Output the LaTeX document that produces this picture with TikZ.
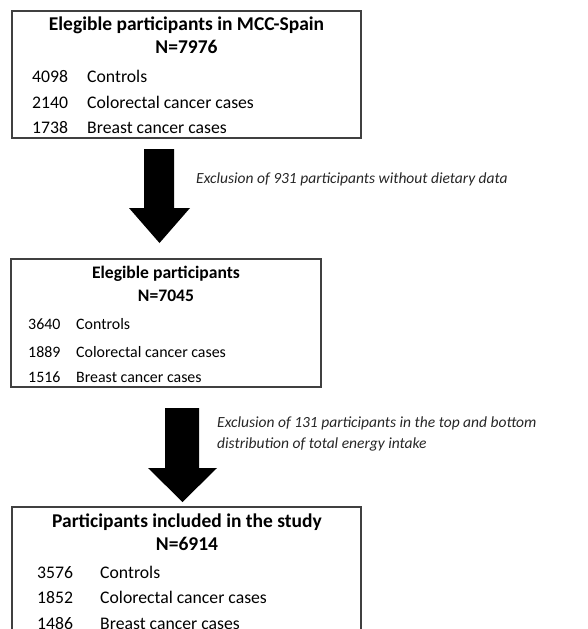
\documentclass[tikz,border=0pt]{standalone}
\usepackage{fontspec}
\setmainfont{Carlito}
\begin{document}
\begin{tikzpicture}[x=1pt,y=-1pt,
  box/.style={draw=black!75,line width=1.3pt},
  ttl/.style={anchor=base,font=\fontsize{19.5}{22}\selectfont\bfseries,inner sep=0pt},
  row/.style={anchor=base west,font=\fontsize{17.7}{20}\selectfont,inner sep=0pt},
  ttlsm/.style={ttl,font=\fontsize{17.6}{20}\selectfont\bfseries},
  rowsm/.style={row,font=\fontsize{15.9}{19}\selectfont},
  note/.style={anchor=base west,font=\fontsize{15.5}{19}\selectfont\itshape,inner sep=0pt,text=black!85},
  blk/.style={fill=black}]
\useasboundingbox (0,0) rectangle (587,629);
\clip (0,0) rectangle (587,629);
% boxes
\node[box,minimum width=349pt,minimum height=127pt,inner sep=0pt] (b1) at (186.5,74.5) {};
\node[box,minimum width=310pt,minimum height=128pt,inner sep=0pt] (b2) at (166,323) {};
\node[box,minimum width=349pt,minimum height=140pt,inner sep=0pt] (b3) at (186.5,577) {};
% box 1 text
\node[ttl] (t1) at (186.5,30) {Elegible participants in MCC-Spain};
\node[ttl] (n1) at (186.5,53) {N=7976};
\node[row] (r11) at (32,82) {4098};
\node[row] (l11) at (87,82) {Controls};
\node[row] (r12) at (32,108) {2140};
\node[row] (l12) at (87,108) {Colorectal cancer cases};
\node[row] (r13) at (32,133) {1738};
\node[row] (l13) at (87,133) {Breast cancer cases};
% box 2 text
\node[ttlsm] (t2) at (166,278) {Elegible participants};
\node[ttlsm] (n2) at (166,301) {N=7045};
\node[rowsm] (r21) at (28,329) {3640};
\node[rowsm] (l21) at (76,329) {Controls};
\node[rowsm] (r22) at (28,357) {1889};
\node[rowsm] (l22) at (76,357) {Colorectal cancer cases};
\node[rowsm] (r23) at (28,382) {1516};
\node[rowsm] (l23) at (76,382) {Breast cancer cases};
% box 3 text
\node[ttl] (t3) at (187,527) {Participants included in the study};
\node[ttl] (n3) at (187,550) {N=6914};
\node[row] (r31) at (37,578) {3576};
\node[row] (l31) at (100,578) {Controls};
\node[row] (r32) at (37,603) {1852};
\node[row] (l32) at (100,603) {Colorectal cancer cases};
\node[row] (r33) at (37,629) {1486};
\node[row] (l33) at (100,629) {Breast cancer cases};
% block arrows
\coordinate (a1s) at (159,149);
\coordinate (a1t) at (159.5,243);
\fill[blk] (144,149) -- (174,149) -- (174,208) -- (190,208) -- (a1t) -- (129,208) -- (144,208) -- cycle;
\coordinate (a2s) at (182,408);
\coordinate (a2t) at (182.5,502);
\fill[blk] (165,408) -- (199,408) -- (199,468) -- (217,468) -- (a2t) -- (148,468) -- (165,468) -- cycle;
% notes
\node[note] (e1) at (196,183) {Exclusion of 931 participants without dietary data};
\node[note] (e2a) at (217,427) {Exclusion of 131 participants in the top and bottom};
\node[note] (e2b) at (217,448) {distribution of total energy intake};
\end{tikzpicture}
\end{document}
